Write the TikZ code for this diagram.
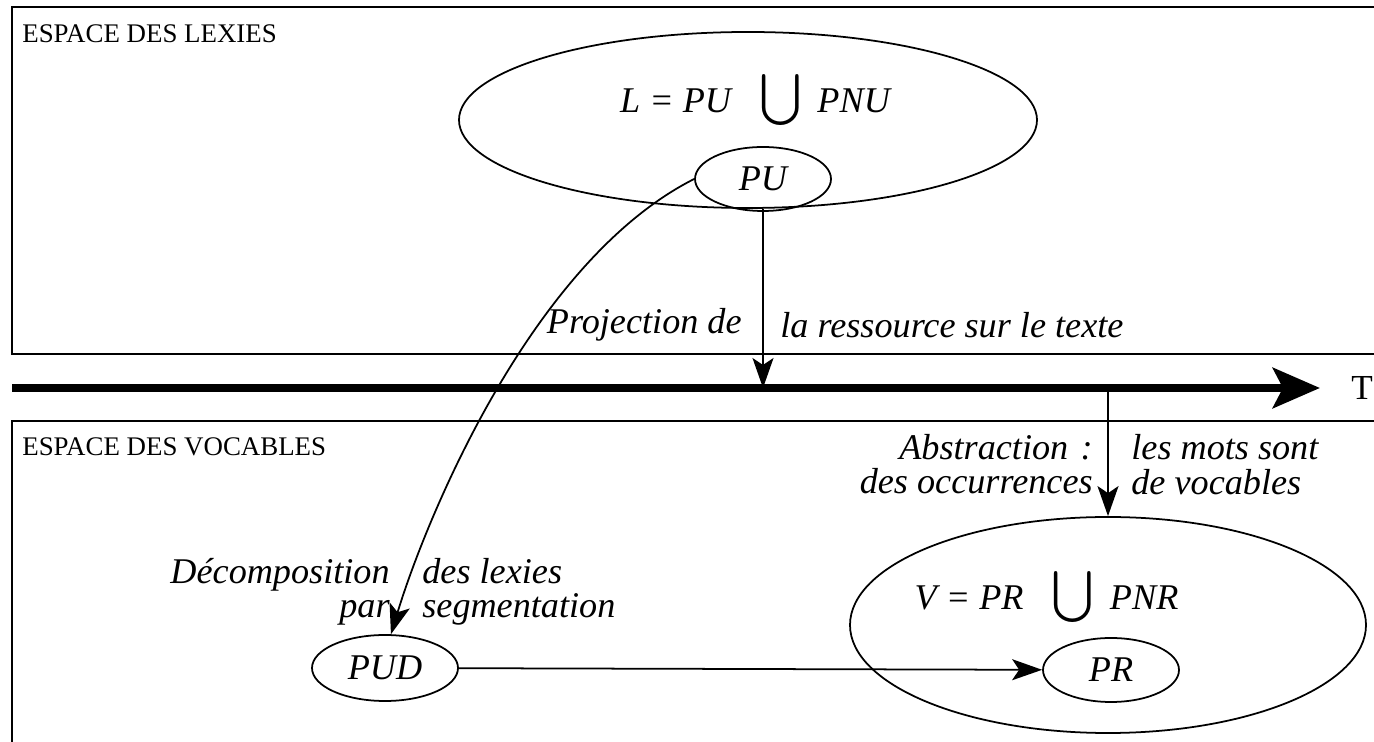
\documentclass[tikz,border=0pt]{standalone}
\usepackage{amsmath}
\usepackage{fontspec}
\setmainfont{Liberation Serif}[ItalicFont={Liberation Serif Italic}]
\usetikzlibrary{arrows.meta,shapes.geometric}

\begin{document}
\begin{tikzpicture}[
  every node/.style={inner sep=0pt},
  lbl/.style={font=\fontsize{20.6}{19.5}\selectfont\itshape},
  spacelbl/.style={font=\fontsize{15.3}{17}\selectfont, anchor=west},
  setnode/.style={draw, ellipse, line width=1pt, font=\fontsize{20.6}{22}\selectfont\itshape},
  arr/.style={-{Stealth[length=0.6cm,width=0.42cm,inset=0.14cm]}, line width=1pt}
]
\useasboundingbox (0,0) rectangle (27.48,14.84);
\draw[line width=0.9pt] (27.6,14.70) -- (0.24,14.70) -- (0.24,7.76) -- (27.6,7.76);
\draw[line width=0.9pt] (27.6,6.42) -- (0.24,6.42) -- (0.24,-0.2);
\node[spacelbl] (lexies) at (0.44,14.16) {ESPACE DES LEXIES};
\node[spacelbl] (vocables) at (0.44,5.9) {ESPACE DES VOCABLES};

\node[setnode, minimum width=11.56cm, minimum height=3.52cm] (L) at (14.96,12.44) {};
\node[lbl] (Lset) at (15.1,12.84) {L = PU\hspace{16pt}\scalebox{1.4}{$\bigcup$}\hspace{9pt}PNU};
\node[setnode, minimum width=2.72cm, minimum height=1.28cm] (PU) at (15.26,11.26) {PU};

\node[setnode, minimum width=10.32cm, minimum height=4.32cm] (V) at (22.16,2.34) {};
\node[lbl] (Vset) at (20.93,2.9) {V = PR\hspace{16pt}\scalebox{1.4}{$\bigcup$}\hspace{9pt}PNR};
\node[setnode, minimum width=2.72cm, minimum height=1.28cm] (PR) at (22.22,1.44) {PR};
\node[setnode, minimum width=2.92cm, minimum height=1.32cm] (PUD) at (7.7,1.48) {PUD};

\coordinate (t0) at (0.24,7.08);
\coordinate (t1) at (26.4,7.08);

\draw[arr] (PU |- L.south) -- (PU |- t0);
\draw[arr] (V.north |- t0) -- (V.north);
\draw[arr] (PU.west) .. controls (10.6,9.6) and (8.5,4.4) .. (PUD.80);
\draw[arr] (PUD) -- (PR);
\draw[line width=5pt, -{Stealth[length=0.94cm,width=0.8cm,inset=0.2cm]}] (t0) -- (t1);
\node[anchor=west, font=\fontsize{20}{24}\selectfont] (T) at (27.02,7.08) {T};

\node[lbl, anchor=east] (proj) at (14.84,8.34) {Projection de};
\node[lbl, anchor=west] (ress) at (15.6,8.34) {la ressource sur le texte};
\node[lbl, anchor=east, align=right] (abstr) at (21.86,5.55) {Abstraction\hspace{7pt}:\\des occurrences};
\node[lbl, anchor=west, align=left] (mots) at (22.62,5.55) {les mots sont\\de vocables};
\node[lbl, anchor=east, align=right] (decomp) at (7.8,3.01) {Décomposition\\par};
\node[lbl, anchor=west, align=left] (segm) at (8.44,3.01) {des lexies\\segmentation};
\end{tikzpicture}
\end{document}
